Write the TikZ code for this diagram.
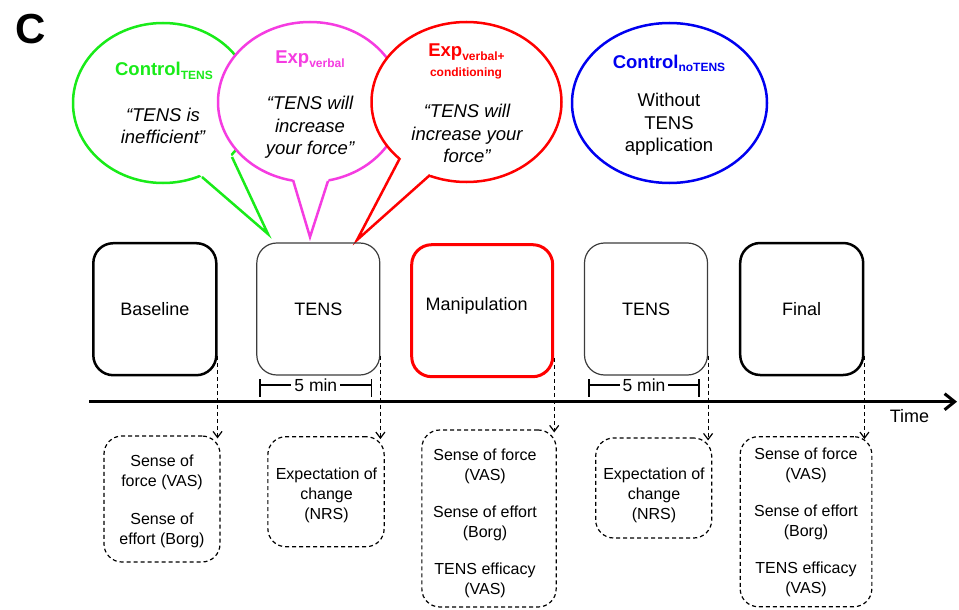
\documentclass[tikz,border=0pt]{standalone}
\usepackage{fontspec}
\setmainfont{Liberation Sans}
\usetikzlibrary{arrows.meta,calc,shapes.geometric}

\definecolor{bgreen}{RGB}{25,235,25}
\definecolor{bmag}{RGB}{245,60,225}
\definecolor{bred}{RGB}{255,0,0}
\definecolor{bblue}{RGB}{0,0,240}
\definecolor{tensgray}{RGB}{60,60,60}

% lowered bold subscript used in the group names
\newcommand\grpsub[1]{\raisebox{-3.5pt}{\fontsize{12}{14}\selectfont #1}}

% speech-bubble tail: colour, base point, tip, base point
\newcommand\bubbletail[4]{%
  \fill[white] ($(#3)!1.07!(#2)$) -- (#3) -- ($(#3)!1.07!(#4)$) -- cycle;
  \draw[#1, line width=2.5pt, line join=miter] (#2) -- (#3) -- (#4);
}

\begin{document}
\begin{tikzpicture}[x=1pt,y=-1pt,
  bubble/.style={ellipse, draw=#1, fill=white, line width=2.5pt, inner sep=0pt},
  grptitle/.style={anchor=base, font=\bfseries\fontsize{18.5}{22}\selectfont, text=#1, inner sep=0pt},
  quote/.style={align=center, font=\itshape\fontsize{18.5}{22.5}\selectfont, inner sep=0pt},
  plaintext/.style={align=center, font=\fontsize{18.5}{22.5}\selectfont, inner sep=0pt},
  stagebox/.style={draw, rounded corners=20pt, minimum width=123pt, minimum height=132pt,
    inner sep=0pt, font=\fontsize{18}{22}\selectfont, line width=2.5pt},
  tensbox/.style={stagebox, draw=tensgray, line width=1.2pt},
  measbox/.style={draw, dashed, dash pattern=on 4pt off 3pt, rounded corners=18pt,
    line width=1.2pt, inner sep=0pt},
  meastext/.style={align=center, inner sep=0pt, font=\fontsize{16}{20}\selectfont},
  measarrow/.style={dashed, dash pattern=on 4pt off 3pt, line width=1.2pt,
    -{Straight Barb[length=6pt,width=9pt]}},
  span/.style={line width=1.2pt},
  spanlabel/.style={fill=white, inner sep=3pt, font=\fontsize{17.5}{20}\selectfont}
]
\useasboundingbox (0,0) rectangle (959,610);

% panel letter
\node[font=\bfseries\fontsize{42}{46}\selectfont, inner sep=0pt] (panel) at (31,29) {C};

% ---- group bubbles ----
\node[bubble=bgreen, minimum width=180pt, minimum height=160pt] (gbub) at (163,103) {};
\bubbletail{bgreen}{202,177}{268,234}{232,157}
\node[grptitle=bgreen] (gtitle) at (164,76) {Control\grpsub{TENS}};
\node[quote] (gquote) at (163,126) {“TENS is\\ inefficient”};

\node[bubble=bmag, minimum width=184pt, minimum height=160pt] (mbub) at (310,102) {};
\bubbletail{bmag}{293,180}{310,237}{328,181}
\node[grptitle=bmag] (mtitle) at (310,64) {Exp\grpsub{verbal}};
\node[quote] (mquote) at (310,127.5) {“TENS will\\ increase\\ your force”};

\node[bubble=bred, minimum width=190pt, minimum height=160pt] (rbub) at (466.5,102) {};
\bubbletail{bred}{400,158}{357,240}{430,175}
\node[grptitle=bred] (rtitle) at (466.5,56.7) {Exp\grpsub{verbal+}};
\node[grptitle=bred, font=\bfseries\fontsize{12}{14}\selectfont] (rtitle2) at (466,76.7) {conditioning};
\node[quote] (rquote) at (467,133.5) {“TENS will\\ increase your\\ force”};

\node[bubble=bblue, minimum width=195pt, minimum height=160pt] (bbub) at (669.5,103) {};
\node[grptitle=bblue] (btitle) at (669,68.3) {Control\grpsub{noTENS}};
\node[plaintext] (btext) at (669,124.5) {Without\\ TENS\\ application};

% ---- session stages ----
\node[stagebox] (base) at (154.8,309.2) {Baseline};
\node[tensbox] (tens1) at (318.3,309) {TENS};
\node[stagebox, draw=bred, line width=3pt, minimum width=141pt] (manip) at (482.2,310.7) {};
\node[font=\fontsize{18}{22}\selectfont, inner sep=0pt] (maniplbl) at ($(manip)+(-5.5,-4.5)$) {Manipulation};
\node[tensbox] (tens2) at (646,309) {TENS};
\node[stagebox] (final) at (801.7,309) {Final};

% ---- 5 min spans ----
\foreach \t/\a/\b in {tens1/260/371.7, tens2/589/699}{
  \coordinate (\t-l) at (\a,385);
  \coordinate (\t-r) at (\b,385);
  \draw[span] ($(\t-l)+(0,-6)$) -- ($(\t-l)+(0,12)$);
  \draw[span] ($(\t-r)+(0,-6)$) -- ($(\t-r)+(0,12)$);
  \draw[span] (\t-l) -- node[spanlabel] {5 min} (\t-r);
}

% ---- time axis ----
\coordinate (tstart) at (89,401.7);
\coordinate (tend) at (957,401.7);
\draw[line width=3pt, -{Straight Barb[length=10pt,width=16pt]}] (tstart) -- (tend);
\node[font=\fontsize{18}{22}\selectfont, inner sep=0pt] (timelbl) at (909.5,416.5) {Time};

% ---- measurements ----
\node[measbox, minimum width=116pt, minimum height=126pt] (m1) at (162,499) {};
\node[meastext] (m1txt) at (162,501) {Sense of\\ force (VAS)\\[18pt] Sense of\\ effort (Borg)};
\node[measbox, minimum width=116.3pt, minimum height=110pt] (m2) at (326,491.7) {};
\node[meastext] (m2txt) at (326.5,495.5) {Expectation of\\ change\\ (NRS)};
\node[measbox, minimum width=134.3pt, minimum height=177pt] (m3) at (489,518.5) {};
\node[meastext] (m3txt) at (485,523) {Sense of force\\ (VAS)\\[17pt] Sense of effort\\ (Borg)\\[17pt] TENS efficacy\\ (VAS)};
\node[measbox, minimum width=116pt, minimum height=100pt] (m4) at (653.7,488) {};
\node[meastext] (m4txt) at (654,495.5) {Expectation of\\ change\\ (NRS)};
\node[measbox, minimum width=131.7pt, minimum height=170pt] (m5) at (806,521.7) {};
\node[meastext] (m5txt) at (806,522.7) {Sense of force\\ (VAS)\\[17pt] Sense of effort\\ (Borg)\\[17pt] TENS efficacy\\ (VAS)};

\foreach \s/\m in {base/m1, tens1/m2, manip/m3, tens2/m4, final/m5}{
  \draw[measarrow] ($(\s.south east)+(0,-20)$) -- ($(\s.south east |- \m.north)+(0,3)$);
}
\end{tikzpicture}
\end{document}
